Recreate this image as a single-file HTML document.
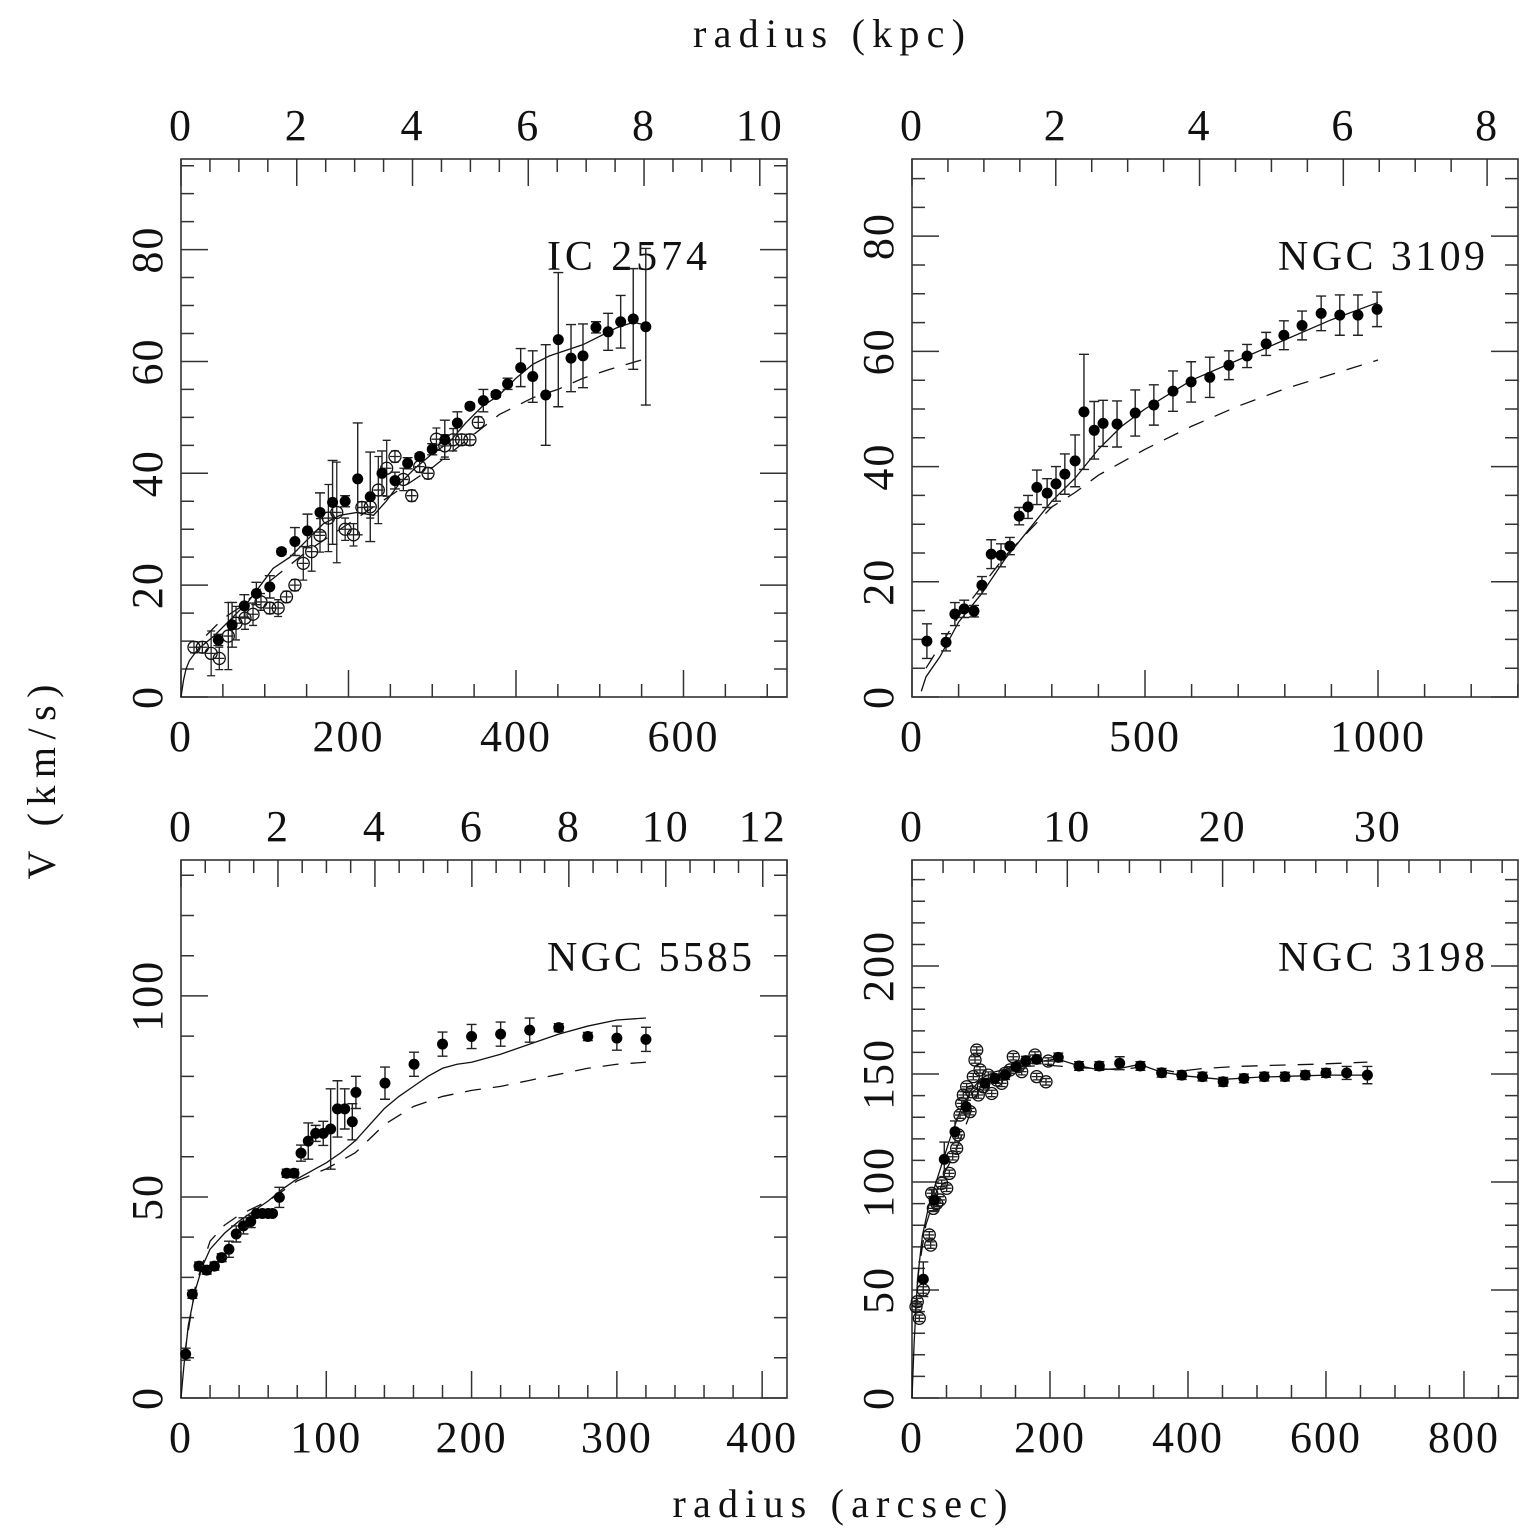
<!DOCTYPE html>
<html><head><meta charset="utf-8"><style>
html,body{margin:0;padding:0;background:#fff;}
svg{display:block;}
text{font-family:"Liberation Serif",serif;fill:#111;}
</style></head><body>
<svg id="chart" width="1531" height="1536" viewBox="0 0 1531 1536" xmlns="http://www.w3.org/2000/svg">
<rect width="1531" height="1536" fill="#fff"/>
<text x="829" y="47" font-size="40" text-anchor="middle" textLength="272" lengthAdjust="spacing">radius (kpc)</text>
<text x="840" y="1517" font-size="40" text-anchor="middle" textLength="335" lengthAdjust="spacing">radius (arcsec)</text>
<text transform="translate(55,782) rotate(-90)" font-size="40" text-anchor="middle" textLength="195" lengthAdjust="spacing">V (km/s)</text>
</svg>
<script>
// ---------- IC 2574 ----------
const ic2574_r = [44.6,61,75.6,90,106,120,136,151,166,181,196,211,226,240,255.5,270.6,285,300,315,330,345,361,376,390,405.6,420,435.5,450.5,465.7,480,495.5,510,525,540,555];
const ic2574_v = [10.2,12.9,16.3,18.5,19.7,26,27.8,29.7,33,34.8,35,39,35.8,40,38.7,41.8,43,44.3,46,49,52,53,54.1,56,58.9,57.3,54,63.9,60.6,61,66.1,65.3,67.1,67.6,66.2];
const ic2574_err = [1,4,2,2,2,0.5,2.5,3,3.5,7.5,1,10,8,4,1.5,1,0.5,1,3.5,2,0.5,2,0.5,1,3.4,4.6,9,12,6,5.7,1,3.3,4.7,9,14];
const ic2574_open_r = [15.5,25.5,36,45.7,56.5,65.7,76.4,86,95.5,106,116,126,136,146,156,166,176,186,196,206,216,226,235.6,245.6,255.5,265.5,275.5,285,295,305,315,325,335,345,355];
const ic2574_open_v = [8.9,8.9,7.8,6.9,10.9,13.2,14.1,14.8,17,15.9,15.9,17.9,20,23.9,26,28.9,32,33,30,29,33.9,34,37,40.9,43,38.9,36,41.2,40,46.1,44.9,46,46,46,49.1];
const ic2574_open_err = [1,1,4,2,6,3,2,2,1.5,1,1.5,1,1,3,3.5,3,6,9,2,2,1,2,6,5,1,2,1,1,1,2,2,2,1,1,1];
const ic2574_model_r = [0,3,6,10,20,40,60,80,100,110,130,150,170,190,210,230,245,260,280,300,320,340,360,380,400,420,440,460,480,500,520,540,555];
const ic2574_model_v = [0,3,5,6.5,8.5,11,14,17,21,23,25,28,31,32.5,33,32.5,35,38,41,43.5,45.5,49,52,54,57,59.5,61,62,63,64.5,66,67,66.5];
const ic2574_dash_r = [30,50,70,100,150,200,250,300,350,380,420,450,480,510,555];
const ic2574_dash_v = [11,14,16,20,26,31,36,41,47,50.5,53.5,55,57,58.5,60.5];
// ---------- NGC 3109 ----------
const n3109_r = [32,73,92,112,133,150,170,191,210,230,249,268,290,309,328,350,369,391,410,440,479,519,560,599,639,680,719,760,798,837,878,918,957,998];
const n3109_v = [9.7,9.5,14.4,15.3,14.9,19.4,24.8,24.6,26.2,31.4,33,36.4,35.4,37,38.7,41,49.5,46.3,47.5,47.4,49.3,50.7,53.1,54.7,55.5,57.6,59.2,61.3,62.8,64.5,66.6,66.3,66.3,67.3];
const n3109_err = [3,1.5,2,1.5,1,1.5,2.5,2,1.5,1.5,2,3,2.5,3,3.5,4.5,10,5,4,4,4,3.5,3.5,3.5,3.5,2.5,2,2,2.5,2.5,3,3.5,3.5,3];
const n3109_model_r = [20,30,60,100,150,200,250,300,350,400,450,500,550,600,700,800,900,1000];
const n3109_model_v = [1,3.5,7,13,18,24,29,34,38,43,47,50,52.5,55,58.5,62,65.5,68.5];
const n3109_dash_r = [30,100,200,300,350,400,500,600,700,800,900,1000];
const n3109_dash_v = [5,14,24.5,33,35.5,38.5,43,47,50.5,53.5,56,58.5];
// ---------- NGC 5585 ----------
const n5585_r = [3.2,7.8,12.4,17.7,23,28,33,38,43,48,52,56,60,63,67.7,72.7,77.8,82.6,87.6,92.7,97.9,103,107.7,112.7,117.9,120.4,140.4,160.4,180,200,220,240,260,280,300,320];
const n5585_v = [10.9,25.8,32.8,31.8,32.8,34.9,37,40.8,42.8,43.9,45.9,45.9,45.9,45.9,49.9,55.9,55.9,60.9,63.9,65.8,65.8,66.9,71.9,71.9,68.7,76,78.3,83,88,89.9,90.5,91.5,92.1,89.9,89.5,89.2];
const n5585_err = [1.5,1,1,1,1,1,2,2,2,1.5,0.5,0.5,0.5,0.5,2.5,1,1,2,4.5,2,3,10,7,5,4.5,4,4,3,3,3,3,3,1,1,3,3];
const n5585_model_r = [0,2,5,10,15,20,30,40,50,60,70,80,90,100,110,120,130,140,150,160,170,180,190,200,220,240,260,280,300,320];
const n5585_model_v = [0,8,18,27,33,37,41,44,46.5,49,52,54.5,56.5,58.5,61,64,68,72,75,77.5,80,82,83,83.5,85.5,88,90.5,92.5,94,94.5];
const n5585_dash_r = [2,10,20,30,40,60,80,100,120,140,160,180,200,220,240,260,280,300,320];
const n5585_dash_v = [10,28,39,43,45.5,49,54,57,61,68,72.5,75,76.5,77.5,79,80.5,82,83,83.5];
// ---------- NGC 3198 ----------
const n3198_r = [16.4,32,46.8,62.3,78.3,105.8,120,134.8,150.7,165,180.7,212,242,271.5,301,331,361.8,391,421,451,481,510.6,540.6,570,600,630,660];
const n3198_v = [55,91.7,110.5,123.3,134.9,145.7,148,149.5,153.4,156.2,156.8,157.7,153.7,153.7,155,153.7,150.6,149.5,148.8,146.4,148,148.8,148.8,149.5,150.5,150.5,149.5];
const n3198_err = [8,5,8,5,3,2,2,2,2,2,2,2,2,2,3,2,2,2,2,2,2,2,2,2,2,3,4];
const n3198_open_r = [5.8,10.6,7.7,16.4,25.1,27.1,28.5,30.9,35.8,40.6,43,50.3,54.1,59,64.7,67.2,69.6,72,74.4,79.2,84.1,86.5,88.9,91.3,93.8,96.1,98.6,103.4,110.6,115.5,122.7,130,134.8,142,146.8,154,159,178.3,180.7,194.2,197.5];
const n3198_open_v = [42.3,36.9,44.6,50,75.5,70.8,94.8,87.8,90.1,91.7,99.4,97.1,104,111.7,115.6,121.8,131,136.4,140.3,144.1,132.6,141.8,148.8,156.5,161.1,140.3,151.9,144.1,149.5,141,147.2,145.7,150.3,151.9,158,153.4,151.1,158.8,148.8,146.4,156];
const n3198_model_r = [0,3,8,15,25,40,55,70,85,100,120,150,180,210,240,270,300,330,360,400,450,500,550,600,660];
const n3198_model_v = [0,25,55,75,90,105,120,133,142,148,151,153.5,155.5,157,154,152,152.5,154.5,151,149,147.5,148.5,149,149.5,149.5];
const n3198_dash_r = [5,10,20,40,60,80,100,130,160,200,240,300,340,380,420,470,520,580,660];
const n3198_dash_v = [40,60,80,100,112,128,145,150,153.5,154,153,152,153.5,151,152.5,153.5,154,154.5,155.5];

// tick values
const p1_xticks = [0,200,400,600], p1_yticks = [0,20,40,60,80], p1_kticks = [0,2,4,6,8,10];
const p2_xticks = [0,500,1000], p2_yticks = [0,20,40,60,80], p2_kticks = [0,2,4,6,8];
const p3_xticks = [0,100,200,300,400], p3_yticks = [0,50,100], p3_kticks = [0,2,4,6,8,10,12];
const p4_xticks = [0,200,400,600,800], p4_yticks = [0,50,100,150,200], p4_kticks = [0,10,20,30];

const NS = "http://www.w3.org/2000/svg";
const svg = document.getElementById('chart');
function mk(tag, attrs, parent){ const e=document.createElementNS(NS,tag); for(const k in attrs) e.setAttribute(k,attrs[k]); (parent||svg).appendChild(e); return e; }

const panels = [
 {id:'ic2574', title:'IC 2574', tl:160, X0:181,X1:787,Y0:697,Y1:159, xmax:723.6, ymax:96.2, kmax:10.47, xt:p1_xticks, xmin:50, yt:p1_yticks, ymin:5, kt:p1_kticks, kmin:0.5,
  r:ic2574_r, v:ic2574_v, e:ic2574_err, or:ic2574_open_r, ov:ic2574_open_v, oe:ic2574_open_err, mr:ic2574_model_r, mv:ic2574_model_v, dr:ic2574_dash_r, dv:ic2574_dash_v},
 {id:'ngc3109', title:'NGC 3109', tl:207, X0:912,X1:1518,Y0:697,Y1:159, xmax:1300.4, ymax:93.4, kmax:8.43, xt:p2_xticks, xmin:100, yt:p2_yticks, ymin:5, kt:p2_kticks, kmin:0.5,
  r:n3109_r, v:n3109_v, e:n3109_err, or:[], ov:[], oe:[], mr:n3109_model_r, mv:n3109_model_v, dr:n3109_dash_r, dv:n3109_dash_v},
 {id:'ngc5585', title:'NGC 5585', tl:205, X0:181,X1:787,Y0:1398,Y1:860, xmax:417.1, ymax:133.8, kmax:12.5, xt:p3_xticks, xmin:20, yt:p3_yticks, ymin:10, kt:p3_kticks, kmin:0.5,
  r:n5585_r, v:n5585_v, e:n5585_err, or:[], ov:[], oe:[], mr:n5585_model_r, mv:n5585_model_v, dr:n5585_dash_r, dv:n5585_dash_v},
 {id:'ngc3198', title:'NGC 3198', tl:207, X0:912,X1:1518,Y0:1398,Y1:860, xmax:878.3, ymax:249.1, kmax:39.02, xt:p4_xticks, xmin:50, yt:p4_yticks, ymin:10, kt:p4_kticks, kmin:2,
  r:n3198_r, v:n3198_v, e:n3198_err, or:n3198_open_r, ov:n3198_open_v, oe:n3198_open_v.map(()=>1.5), mr:n3198_model_r, mv:n3198_model_v, dr:n3198_dash_r, dv:n3198_dash_v}
];

panels.forEach(p=>{
  const g = mk('g',{});
  
  
  const sx = v => p.X0 + v/p.xmax*(p.X1-p.X0);
  const sy = v => p.Y0 - v/p.ymax*(p.Y0-p.Y1);
  const sk = v => p.X0 + v/p.kmax*(p.X1-p.X0);
  const frame = mk('rect',{x:p.X0,y:p.Y1,width:p.X1-p.X0,height:p.Y0-p.Y1,fill:'none',stroke:'#333','stroke-width':1.6},g);
  
  
  let d='';
  const MAJ=27, MIN=13;
  // bottom x ticks
  for(let v=0; v<=p.xmax+1e-6; v+=p.xmin){ const x=sx(v); const maj = p.xt.some(t=>Math.abs(t-v)<1e-6); d+=`M${x},${p.Y0}v${-(maj?MAJ:MIN)}`; }
  // top kpc ticks
  for(let v=0; v<=p.kmax+1e-6; v+=p.kmin){ const x=sk(v); const maj = p.kt.some(t=>Math.abs(t-v)<1e-6); d+=`M${x},${p.Y1}v${(maj?MAJ:MIN)}`; }
  // y ticks
  for(let v=0; v<=p.ymax+1e-6; v+=p.ymin){ const y=sy(v); const maj = p.yt.some(t=>Math.abs(t-v)<1e-6); const L=maj?MAJ:MIN; d+=`M${p.X0},${y}h${L}M${p.X1},${y}h${-L}`; }
  const ticks = mk('path',{d:d,stroke:'#333','stroke-width':1.5,fill:'none'},g);
  
  
  p.xt.forEach(t=>{ const tx=mk('text',{x:sx(t),y:p.Y0+54,'font-size':44,'text-anchor':'middle','letter-spacing':2},g); tx.textContent=t;
    
     });
  p.kt.forEach(t=>{ const tx=mk('text',{x:sk(t),y:p.Y1-19,'font-size':44,'text-anchor':'middle','letter-spacing':2},g); tx.textContent=t;
    
     });
  p.yt.forEach(t=>{ const tx=mk('text',{transform:`translate(${p.X0-19},${sy(t)}) rotate(-90)`,'font-size':44,'text-anchor':'middle','letter-spacing':2},g); tx.textContent=t;
    
     });
  const ttl = mk('text',{x:p.X1-(p.id==='ic2574'?80:(p.id==='ngc5585'?35:33)),y:p.Y1+111,'font-size':42,'text-anchor':'end',textLength:p.tl,lengthAdjust:'spacing'},g);
  ttl.textContent = p.title;
  
  
  // model lines
  const ml = mk('path',{d:p.mr.map((r,i)=>(i?'L':'M')+sx(r)+','+sy(p.mv[i])).join(''),fill:'none',stroke:'#111','stroke-width':1.3},g);
  
  
  const dl = mk('path',{d:p.dr.map((r,i)=>(i?'L':'M')+sx(r)+','+sy(p.dv[i])).join(''),fill:'none',stroke:'#111','stroke-width':1.3,'stroke-dasharray':'16 12'},g);
  
  
  // open points
  p.or.forEach((r,i)=>{
    const x=sx(r), y=sy(p.ov[i]), e=p.oe[i]*(p.Y0-p.Y1)/p.ymax;
    const eb=mk('path',{d:`M${x},${y-e}V${y+e}M${x-4},${y-e}h8M${x-4},${y+e}h8M${x-5},${y}h10`,stroke:'#222','stroke-width':1.3,fill:'none'},g);
    
    
    const c=mk('circle',{cx:x,cy:y,r:6,fill:'none',stroke:'#111','stroke-width':1.3},g);
    
    
  });
  // filled points
  p.r.forEach((r,i)=>{
    const x=sx(r), y=sy(p.v[i]), e=p.e[i]*(p.Y0-p.Y1)/p.ymax;
    const eb=mk('path',{d:`M${x},${y-e}V${y+e}M${x-5},${y-e}h10M${x-5},${y+e}h10`,stroke:'#222','stroke-width':1.4,fill:'none'},g);
    
    
    const c=mk('circle',{cx:x,cy:y,r:5.5,fill:'#000'},g);
    
    
  });
});
</script>
</body></html>
